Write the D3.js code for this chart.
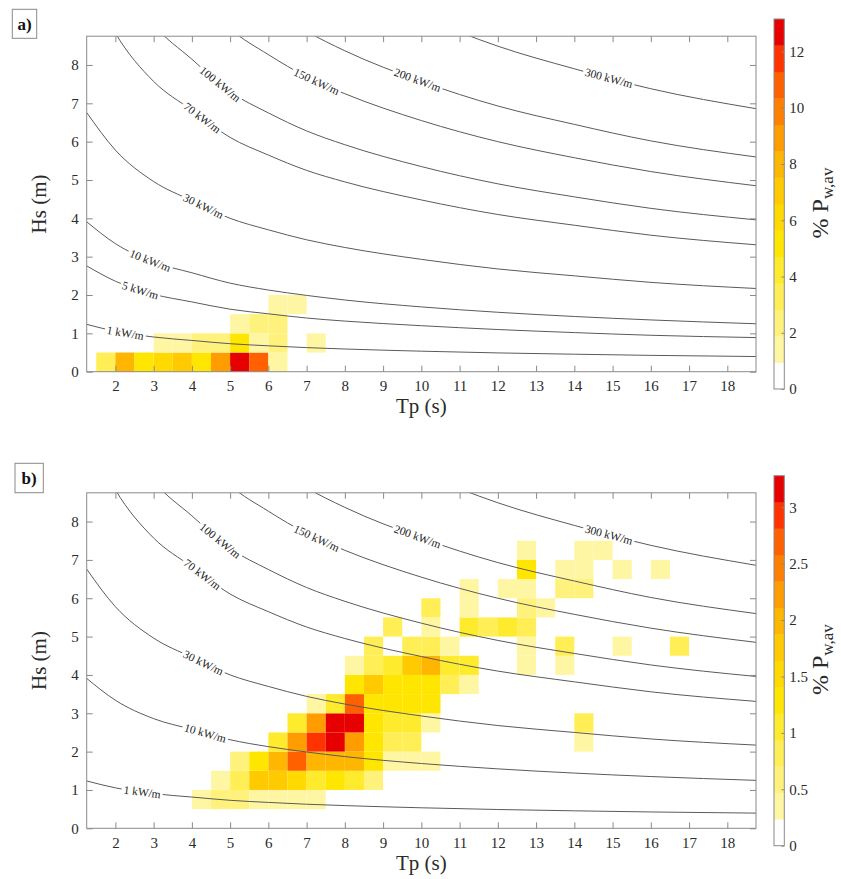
<!DOCTYPE html>
<html><head><meta charset="utf-8">
<script src="https://cdn.jsdelivr.net/npm/d3@7"></script>
<style>
body{margin:0;background:#fff}
text{font-family:"Liberation Serif","Times New Roman",serif}
</style>
</head><body>
<svg id="chart" width="841" height="879"></svg>
<script>
// ---------------- DATA ----------------
const tpTicks = [2,3,4,5,6,7,8,9,10,11,12,13,14,15,16,17,18];
const hsTicks = [0,1,2,3,4,5,6,7,8];
const binWidth = 0.5;

// colour bands (14 steps: white -> yellow -> red)
const palette = ['#ffffff','#fff6a3','#fff27c','#ffee55','#ffeb2e','#ffe600','#ffd900',
                 '#ffca00','#ffb600','#ff9c00','#ff8000','#ff6000','#ff3300','#e60000'];
const climA = [0, 13.16];
const climB = [0, 3.28];
const cbTicksA = [0,2,4,6,8,10,12];
const cbTicksB = [0,0.5,1,1.5,2,2.5,3];

// panel a cells: Tp bin start, Hs bin start, % of mean power
const panelATp  = [1.5,2,2.5,3,3.5,4,4.5,5,5.5,6,  3,3.5,4,4.5,5,5.5,6,7,  5,5.5,6,  6,6.5];
const panelAHs  = [0,0,0,0,0,0,0,0,0,0,  0.5,0.5,0.5,0.5,0.5,0.5,0.5,0.5,  1,1,1,  1.5,1.5];
const panelAVal = [3.3,7.6,5.2,6.3,7.2,5.2,8.9,13.16,10.8,1.4,  1.4,1.4,2.3,2.3,5.2,1.0,2.4,1.4,  1.4,2.4,2.4,  1.4,1.4];

// panel b cells
const panelBTp = [
  4,4.5,5,5.5,6,6.5,7,
  4.5,5,5.5,6,6.5,7,7.5,8,8.5,
  5,5.5,6,6.5,7,7.5,8,8.5,9,9.5,10,
  6,6.5,7,7.5,8,8.5,9,9.5,14,
  6.5,7,7.5,8,8.5,9,9.5,10,14,
  7,7.5,8,8.5,9,9.5,10,
  8,8.5,9,9.5,10,10.5,11,
  8,8.5,9,9.5,10,10.5,11,12.5,13.5,
  8.5,9.5,10,10.5,12.5,13.5,15,16.5,
  9,10,11,11.5,12,12.5,
  10,11,12.5,13,
  11,12,12.5,13.5,14,
  12.5,13.5,14,15,16,
  12.5,14,14.5];
const panelBHs = [
  0.5,0.5,0.5,0.5,0.5,0.5,0.5,
  1,1,1,1,1,1,1,1,1,
  1.5,1.5,1.5,1.5,1.5,1.5,1.5,1.5,1.5,1.5,1.5,
  2,2,2,2,2,2,2,2,2,
  2.5,2.5,2.5,2.5,2.5,2.5,2.5,2.5,2.5,
  3,3,3,3,3,3,3,
  3.5,3.5,3.5,3.5,3.5,3.5,3.5,
  4,4,4,4,4,4,4,4,4,
  4.5,4.5,4.5,4.5,4.5,4.5,4.5,4.5,
  5,5,5,5,5,5,
  5.5,5.5,5.5,5.5,
  6,6,6,6,6,
  6.5,6.5,6.5,6.5,6.5,
  7,7,7];
const panelBVal = [
  0.35,0.59,0.59,0.35,0.35,0.35,0.35,
  0.35,0.82,1.76,1.76,1.5,1.05,1.29,1.05,0.59,
  0.59,1.29,2.05,2.69,1.9,1.9,1.9,1.29,0.35,0.35,0.35,
  1.05,2.25,2.93,3.2,2.22,1.29,0.9,0.9,0.35,
  1.05,2.2,3.2,3.28,1.29,0.95,0.95,0.35,0.82,
  0.35,1.05,2.69,1.29,1.29,1.29,1.29,
  1.29,1.76,1.29,1.29,1.29,0.82,0.35,
  0.35,0.82,1.05,1.76,1.99,1.05,1.05,0.35,0.35,
  0.82,0.82,0.82,0.35,0.35,0.82,0.35,0.82,
  0.82,0.35,1.05,0.82,1.05,0.82,
  0.82,0.35,0.59,0.35,
  0.35,0.35,0.35,0.59,0.59,
  1.29,0.35,0.35,0.35,0.35,
  0.35,0.35,0.35];

// iso-power lines: [Tp, Hs]
const kw1   = [[1.25,1.235],[2,1.055],[3,0.905],[4,0.815],[5,0.73],[6,0.675],[7,0.628],[8,0.592],[10,0.535],[12,0.49],[14,0.456],[16,0.426],[18.75,0.396]];
const kw5   = [[1.25,2.76],[2,2.36],[3,2.02],[4,1.82],[5,1.63],[6,1.51],[7,1.40],[8,1.32],[10,1.20],[12,1.10],[14,1.02],[16,0.95],[18.75,0.89]];
const kw10  = [[1.25,3.91],[2,3.34],[3,2.86],[4,2.58],[5,2.31],[6,2.13],[7,1.99],[8,1.87],[10,1.69],[12,1.55],[14,1.44],[16,1.35],[18.75,1.25]];
const kw30  = [[1.25,6.76],[2,5.78],[3,4.96],[4,4.46],[5,4.00],[6,3.70],[7,3.44],[8,3.24],[10,2.93],[12,2.68],[14,2.50],[16,2.33],[18.75,2.17]];
const kw70  = [[1.25,10.33],[2,8.83],[3,7.57],[4,6.82],[5,6.11],[6,5.65],[7,5.25],[8,4.95],[10,4.48],[12,4.10],[14,3.82],[16,3.56],[18.75,3.31]];
const kw100 = [[1.25,12.35],[2,10.55],[3,9.05],[4,8.15],[5,7.30],[6,6.75],[7,6.28],[8,5.92],[10,5.35],[12,4.90],[14,4.56],[16,4.26],[18.75,3.96]];
const kw150 = [[2,12.92],[3,11.08],[4,9.98],[5,8.94],[6,8.27],[7,7.69],[8,7.25],[10,6.55],[12,6.00],[14,5.58],[16,5.22],[18.75,4.85]];
const kw200 = [[3,12.80],[4,11.53],[5,10.32],[6,9.55],[7,8.88],[8,8.37],[10,7.57],[12,6.93],[14,6.45],[16,6.02],[18.75,5.60]];
const kw300 = [[6,11.69],[7,10.88],[8,10.25],[10,9.27],[12,8.49],[14,7.90],[16,7.38],[18.75,6.86]];
const contourNames = ['1 kW/m','5 kW/m','10 kW/m','30 kW/m','70 kW/m','100 kW/m','150 kW/m','200 kW/m','300 kW/m'];

// ---------------- DRAWING ----------------
const W = 841, H = 879;
const svg = d3.select('#chart');
const defs = svg.append('defs');
const X0 = 86.7, X1 = 756;
const x = d3.scaleLinear().domain([1.25, 18.75]).range([X0, X1]);
const axisColor = '#8a8a8a', textColor = '#2b2b2b';

function drawPanel(cfg) {
  const y = d3.scaleLinear().domain([0, 8.75]).range([cfg.bottom, cfg.top]);
  const color = d3.scaleQuantize().domain(cfg.clim).range(palette);
  const g = svg.append('g');

  // cells
  const idx = d3.range(cfg.tp.length);
  g.append('g').selectAll('rect').data(idx).join('rect')
    .attr('x', i => x(cfg.tp[i]))
    .attr('y', i => y(cfg.hs[i] + binWidth))
    .attr('width', i => x(cfg.tp[i] + binWidth) - x(cfg.tp[i]))
    .attr('height', i => y(cfg.hs[i]) - y(cfg.hs[i] + binWidth))
    .attr('fill', i => color(cfg.val[i]));

  // clip + mask for contour lines
  defs.append('clipPath').attr('id', 'clip' + cfg.id).append('rect')
    .attr('x', X0).attr('y', cfg.top).attr('width', X1 - X0).attr('height', cfg.bottom - cfg.top);
  const mask = defs.append('mask').attr('id', 'mask' + cfg.id)
    .attr('maskUnits', 'userSpaceOnUse').attr('x', 0).attr('y', 0).attr('width', W).attr('height', H);
  mask.append('rect').attr('x', 0).attr('y', 0).attr('width', W).attr('height', H).attr('fill', '#fff');

  const lines = g.append('g').attr('clip-path', `url(#clip${cfg.id})`)
    .append('g').attr('mask', `url(#mask${cfg.id})`);
  const labels = g.append('g');
  const line = d3.line().x(d => x(d[0])).y(d => y(d[1])).curve(d3.curveMonotoneX);

  cfg.contours.forEach(c => {
    const p = lines.append('path').attr('d', line(c.pts))
      .attr('fill', 'none').attr('stroke', '#5a5a5a').attr('stroke-width', 1);
    const node = p.node();
    const L = node.getTotalLength();
    const tx = x(c.at);
    let lo = 0, hi = L;
    for (let k = 0; k < 40; k++) {
      const mid = (lo + hi) / 2;
      if (node.getPointAtLength(mid).x < tx) lo = mid; else hi = mid;
    }
    const pt = node.getPointAtLength(lo);
    const p1 = node.getPointAtLength(Math.max(0, lo - 8));
    const p2 = node.getPointAtLength(Math.min(L, lo + 8));
    const ang = Math.atan2(p2.y - p1.y, p2.x - p1.x) * 180 / Math.PI;
    const t = labels.append('text')
      .attr('transform', `translate(${pt.x},${pt.y}) rotate(${ang})`)
      .attr('text-anchor', 'middle').attr('dy', '0.33em')
      .attr('font-size', 11.5).attr('fill', '#222').text(c.name);
    const w = t.node().getComputedTextLength();
    mask.append('rect').attr('x', -w / 2 - 2).attr('y', -6).attr('width', w + 4).attr('height', 12)
      .attr('fill', '#000').attr('transform', `translate(${pt.x},${pt.y}) rotate(${ang})`);
  });

  // axes (inward ticks)
  const ax = svg.append('g').attr('font-size', 15);
  const bottom = ax.append('g').attr('transform', `translate(0,${cfg.bottom})`)
    .call(d3.axisBottom(x).tickValues(tpTicks).tickSize(-6).tickPadding(9).tickFormat(d3.format('d')));
  const top = ax.append('g').attr('transform', `translate(0,${cfg.top})`)
    .call(d3.axisTop(x).tickValues(tpTicks).tickSize(-6).tickFormat(''));
  const left = ax.append('g').attr('transform', `translate(${X0},0)`)
    .call(d3.axisLeft(y).tickValues(hsTicks).tickSize(-6).tickPadding(8).tickFormat(d3.format('d')));
  const right = ax.append('g').attr('transform', `translate(${X1},0)`)
    .call(d3.axisRight(y).tickValues(hsTicks).tickSize(-6).tickFormat(''));
  [bottom, top, left, right].forEach(a => {
    a.select('.domain').remove();
    a.selectAll('line').attr('stroke', axisColor);
    a.selectAll('text').attr('fill', textColor)
      .style('font-family', '"Liberation Serif","Times New Roman",serif').attr('font-size', 15);
  });
  svg.append('rect').attr('x', X0).attr('y', cfg.top).attr('width', X1 - X0).attr('height', cfg.bottom - cfg.top)
    .attr('fill', 'none').attr('stroke', axisColor).attr('stroke-width', 1);

  // axis titles
  svg.append('text').attr('x', (X0 + X1) / 2).attr('y', cfg.bottom + 41.5)
    .attr('text-anchor', 'middle').attr('font-size', 21).attr('fill', textColor).text('Tp (s)');
  svg.append('text').attr('transform', `translate(46,${(cfg.top + cfg.bottom) / 2}) rotate(-90)`)
    .attr('text-anchor', 'middle').attr('font-size', 21).attr('fill', textColor).text('Hs (m)');

  // panel tag
  svg.append('rect').attr('x', cfg.box[0]).attr('y', cfg.box[1]).attr('width', cfg.box[2]).attr('height', cfg.box[3])
    .attr('fill', '#fff').attr('stroke', '#8a8a8a');
  svg.append('text').attr('x', cfg.box[0] + cfg.box[2] / 2).attr('y', cfg.box[1] + cfg.box[3] / 2)
    .attr('dy', '0.35em').attr('text-anchor', 'middle').attr('font-size', 17).attr('font-weight', 'bold')
    .attr('fill', '#111').text(cfg.tag);

  // colorbar
  const cbX0 = 774, cbX1 = 784.3;
  const cy = d3.scaleLinear().domain(cfg.clim).range([cfg.cbBottom, cfg.cbTop]);
  const step = (cfg.clim[1] - cfg.clim[0]) / palette.length;
  svg.append('g').selectAll('rect').data(palette).join('rect')
    .attr('x', cbX0).attr('width', cbX1 - cbX0)
    .attr('y', (d, i) => cy(cfg.clim[0] + (i + 1) * step))
    .attr('height', (d, i) => cy(cfg.clim[0] + i * step) - cy(cfg.clim[0] + (i + 1) * step) + 0.3)
    .attr('fill', d => d);
  svg.append('rect').attr('x', cbX0).attr('y', cfg.cbTop).attr('width', cbX1 - cbX0).attr('height', cfg.cbBottom - cfg.cbTop)
    .attr('fill', 'none').attr('stroke', axisColor);
  const cbAxis = svg.append('g').attr('transform', `translate(${cbX1},0)`)
    .call(d3.axisRight(cy).tickValues(cfg.cbTicks).tickSize(-3).tickPadding(5).tickFormat(d => String(d)));
  cbAxis.select('.domain').remove();
  cbAxis.selectAll('line').attr('stroke', axisColor);
  cbAxis.selectAll('text').attr('fill', textColor)
    .style('font-family', '"Liberation Serif","Times New Roman",serif').attr('font-size', 15);

  const cbt = svg.append('text')
    .attr('transform', `translate(828,${(cfg.cbTop + cfg.cbBottom) / 2 - 1}) rotate(-90)`)
    .attr('text-anchor', 'middle').attr('font-size', 24).attr('fill', textColor);
  cbt.append('tspan').text('% P');
  cbt.append('tspan').attr('dy', 5).attr('font-size', 17).text('w,av');
}

function contourSet(levelIdx, positions) {
  const all = [kw1, kw5, kw10, kw30, kw70, kw100, kw150, kw200, kw300];
  return levelIdx.map((k, j) => ({pts: all[k], name: contourNames[k], at: positions[j]}));
}

drawPanel({
  id: 'a', tag: 'a)', top: 36.2, bottom: 371.7, cbTop: 19, cbBottom: 389,
  box: [12.3, 9.3, 24.4, 29],
  tp: panelATp, hs: panelAHs, val: panelAVal, clim: climA, cbTicks: cbTicksA,
  contours: contourSet([0,1,2,3,4,5,6,7,8], [2.26, 2.65, 2.91, 4.3, 4.27, 4.74, 7.26, 9.9, 14.9])
});
drawPanel({
  id: 'b', tag: 'b)', top: 492.8, bottom: 828.3, cbTop: 475.7, cbBottom: 845.7,
  box: [15, 463.3, 28.3, 29.4],
  tp: panelBTp, hs: panelBHs, val: panelBVal, clim: climB, cbTicks: cbTicksB,
  contours: contourSet([0,2,3,4,5,6,7,8], [2.7, 4.35, 4.3, 4.27, 4.74, 7.26, 9.9, 14.9])
});
</script>
</body></html>
